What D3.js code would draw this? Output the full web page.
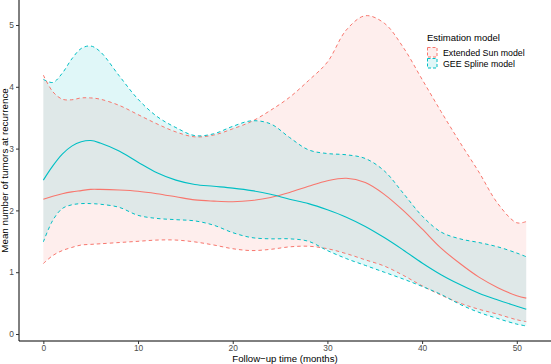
<!DOCTYPE html>
<html lang="en">
<head>
    <meta charset="UTF-8">
    <title>Mean number of tumors at recurrence</title>
    <script src="https://cdn.jsdelivr.net/npm/d3@7"></script>
    <style>
        body { margin: 0; background: #fff; }
        text { font-family: "Liberation Sans", Arial, sans-serif; }
    </style>
</head>
<body>
    <script>
    // follow-up times (months)
    var times = [0, 1, 2, 3, 4, 5, 6, 8, 10, 12, 14, 16, 18, 20, 22, 24, 26, 28, 30, 32, 34, 36, 38, 40, 42, 44, 46, 48, 50, 51];

    // Extended Sun model
    var sunMean  = [2.18, 2.23, 2.27, 2.30, 2.32, 2.34, 2.34, 2.33, 2.31, 2.27, 2.22, 2.17, 2.15, 2.14, 2.16, 2.21, 2.29, 2.39, 2.48, 2.52, 2.45, 2.26, 2.00, 1.70, 1.39, 1.14, 0.92, 0.75, 0.62, 0.58];
    var sunLower = [1.14, 1.27, 1.35, 1.40, 1.44, 1.45, 1.46, 1.48, 1.50, 1.52, 1.52, 1.49, 1.44, 1.38, 1.35, 1.37, 1.41, 1.42, 1.38, 1.30, 1.20, 1.10, 0.95, 0.78, 0.63, 0.50, 0.40, 0.32, 0.23, 0.20];
    var sunUpper = [4.19, 3.92, 3.80, 3.79, 3.82, 3.82, 3.80, 3.70, 3.55, 3.40, 3.27, 3.19, 3.22, 3.32, 3.44, 3.62, 3.83, 4.10, 4.40, 4.92, 5.15, 5.03, 4.64, 4.12, 3.60, 3.10, 2.62, 2.11, 1.80, 1.82];

    // GEE Spline model
    var geeMean  = [2.49, 2.72, 2.91, 3.04, 3.11, 3.13, 3.09, 2.96, 2.78, 2.61, 2.49, 2.42, 2.39, 2.36, 2.32, 2.26, 2.18, 2.11, 2.01, 1.89, 1.74, 1.56, 1.36, 1.15, 0.96, 0.80, 0.66, 0.55, 0.45, 0.40];
    var geeLower = [1.49, 1.84, 2.03, 2.09, 2.11, 2.11, 2.10, 2.05, 1.92, 1.87, 1.85, 1.83, 1.76, 1.64, 1.56, 1.54, 1.54, 1.50, 1.35, 1.22, 1.11, 1.00, 0.89, 0.77, 0.64, 0.48, 0.35, 0.25, 0.16, 0.13];
    var geeUpper = [4.12, 4.07, 4.22, 4.45, 4.62, 4.66, 4.57, 4.18, 3.80, 3.52, 3.34, 3.21, 3.24, 3.36, 3.45, 3.40, 3.18, 2.98, 2.92, 2.90, 2.84, 2.64, 2.28, 1.91, 1.65, 1.54, 1.48, 1.41, 1.31, 1.25];

    var modelNames = ["Extended Sun model", "GEE Spline model"];
    var modelColors = ["#F8766D", "#00BFC4"];
    var xTicks = [0, 10, 20, 30, 40, 50];
    var yTicks = [0, 1, 2, 3, 4, 5];

    var width = 551, height = 364;
    var panel = { left: 19, right: 551, top: 0, bottom: 341 };

    var svg = d3.select("body").append("svg")
        .attr("width", width).attr("height", height);

    var x = d3.scaleLinear().domain([-2.55, 53.55]).range([19.2, 550.4]);
    var y = d3.scaleLinear().domain([0, 5]).range([334, 25]);

    var models = [
        { name: modelNames[0], color: modelColors[0], mean: sunMean, lower: sunLower, upper: sunUpper },
        { name: modelNames[1], color: modelColors[1], mean: geeMean, lower: geeLower, upper: geeUpper }
    ];

    function rows(m) {
        return times.map(function(t, i) {
            return { t: t, mean: m.mean[i], lower: m.lower[i], upper: m.upper[i] };
        });
    }

    var curve = d3.curveCatmullRom.alpha(0.5);

    var area = d3.area()
        .x(function(d) { return x(d.t); })
        .y0(function(d) { return y(d.lower); })
        .y1(function(d) { return y(d.upper); })
        .curve(curve);

    var line = function(key) {
        return d3.line()
            .x(function(d) { return x(d.t); })
            .y(function(d) { return y(d[key]); })
            .curve(curve);
    };

    var g = svg.append("g");

    // ribbons
    models.forEach(function(m) {
        g.append("path")
            .datum(rows(m))
            .attr("d", area)
            .attr("fill", m.color)
            .attr("fill-opacity", 0.12);
    });

    // dashed bounds
    models.forEach(function(m) {
        ["lower", "upper"].forEach(function(k) {
            g.append("path")
                .datum(rows(m))
                .attr("d", line(k))
                .attr("fill", "none")
                .attr("stroke", m.color)
                .attr("stroke-width", 1)
                .attr("stroke-dasharray", "3.5,3");
        });
    });

    // mean curves
    models.forEach(function(m) {
        g.append("path")
            .datum(rows(m))
            .attr("d", line("mean"))
            .attr("fill", "none")
            .attr("stroke", m.color)
            .attr("stroke-width", 1.1);
    });

    // axes
    var xAxis = svg.append("g")
        .attr("transform", "translate(0," + panel.bottom + ")")
        .call(d3.axisBottom(x).tickValues(xTicks).tickFormat(d3.format("d")).tickSize(3).tickPadding(1));
    xAxis.select(".domain").attr("d", "M" + panel.left + ",0H" + panel.right).attr("stroke", "#000").attr("stroke-width", 1);

    var yAxis = svg.append("g")
        .attr("transform", "translate(" + panel.left + ",0)")
        .call(d3.axisLeft(y).tickValues(yTicks).tickFormat(d3.format("d")).tickSize(3).tickPadding(2));
    yAxis.select(".domain").attr("d", "M0," + panel.top + "V" + panel.bottom).attr("stroke", "#000").attr("stroke-width", 1);

    svg.selectAll(".tick line").attr("stroke", "#333");
    svg.selectAll(".tick text")
        .attr("fill", "#4d4d4d")
        .style("font-size", "8.4px")
        .style("font-family", "Liberation Sans, Arial, sans-serif");

    // axis titles
    svg.append("text")
        .attr("x", (panel.left + panel.right) / 2)
        .attr("y", 361.5)
        .attr("text-anchor", "middle")
        .style("font-size", "9.6px")
        .text("Follow\u2212up time (months)");

    svg.append("text")
        .attr("transform", "translate(8," + (panel.bottom / 2) + ") rotate(-90)")
        .attr("text-anchor", "middle")
        .style("font-size", "9.8px")
        .text("Mean number of tumors at recurrence");

    // legend
    var legend = svg.append("g").attr("transform", "translate(427,0)");
    legend.append("text")
        .attr("x", 0).attr("y", 41)
        .style("font-size", "9.5px")
        .text("Estimation model");

    models.forEach(function(m, i) {
        var ly = 47 + i * 11;
        legend.append("rect")
            .attr("x", 0.5).attr("y", ly + 0.5)
            .attr("width", 9.5).attr("height", 9.5)
            .attr("fill", m.color).attr("fill-opacity", 0.12)
            .attr("stroke", m.color).attr("stroke-width", 1)
            .attr("stroke-dasharray", "3,2");
        legend.append("text")
            .attr("x", 16).attr("y", ly + 8.5)
            .style("font-size", "8.8px")
            .text(m.name);
    });
    </script>
</body>
</html>
